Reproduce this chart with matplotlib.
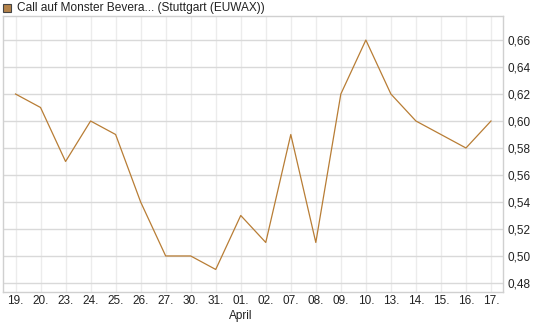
import matplotlib
matplotlib.use("Agg")
from matplotlib import pyplot as plt
from matplotlib.patches import Rectangle

plt.rcParams['font.family'] = ['Liberation Sans', 'DejaVu Sans']

days = ['19.', '20.', '23.', '24.', '25.', '26.', '27.', '30.', '31.', '01.',
        '02.', '07.', '08.', '09.', '10.', '13.', '14.', '15.', '16.', '17.']
prices = [0.62, 0.61, 0.57, 0.60, 0.59, 0.54, 0.50, 0.50, 0.49, 0.53,
          0.51, 0.59, 0.51, 0.62, 0.66, 0.62, 0.60, 0.59, 0.58, 0.60]
yticks = [0.48, 0.50, 0.52, 0.54, 0.56, 0.58, 0.60, 0.62, 0.64, 0.66]
title = "Call auf Monster Bevera... (Stuttgart (EUWAX))"

W, H = 545, 327
fig = plt.figure(figsize=(W / 100, H / 100), dpi=100)
ax = fig.add_axes([3 / W, (H - 292) / H, 500 / W, 276 / H])

x = list(range(len(prices)))
ax.plot(x, prices, color="#b87d35", linewidth=0.9)

ax.set_xlim(-0.5, 19.48)
ax.set_ylim(0.4733, 0.6778)
ax.set_xticks(x)
ax.set_xticklabels(days)
ax.set_yticks(yticks)
ax.set_yticklabels([f"{v:.2f}".replace('.', ',') for v in yticks])
ax.yaxis.tick_right()
ax.tick_params(axis='both', length=0, labelsize=8.5, colors='#222222')
ax.tick_params(axis='y', pad=3)
ax.tick_params(axis='x', pad=2.5)

ax.grid(axis='y', color='#d9d9d9', linewidth=1)
ax.grid(axis='x', color='#ececec', linewidth=1)
ax.set_axisbelow(True)
for s in ax.spines.values():
    s.set_color('#d0d0d0')
    s.set_linewidth(1)

fig.text(241 / W, 1 - 310 / H, "April", ha='center', va='top', fontsize=8.5, color='#222222')

fig.patches.append(Rectangle((3 / W, 1 - 12 / H), 8 / W, 8 / H, transform=fig.transFigure,
                             facecolor='#b5834a', edgecolor='#444444', linewidth=0.8))
fig.text(17 / W, 1 - 8 / H, title, ha='left', va='center', fontsize=8.6, color='#222222')

fig.savefig("out.png", dpi=100)
